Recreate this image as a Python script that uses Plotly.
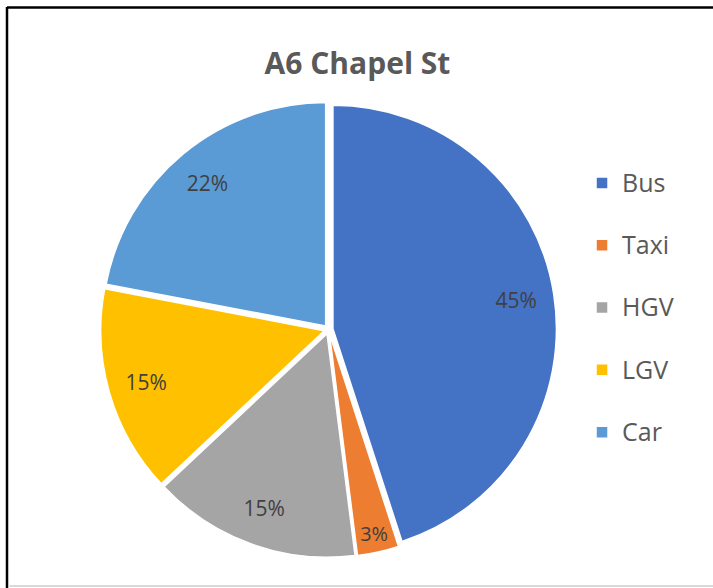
import plotly.graph_objects as go

# Datos del gráfico
categorias = ['Bus', 'Taxi', 'HGV', 'LGV', 'Car']
porcentajes = [45, 3, 15, 15, 22]
colores = ['#4472C4', '#ED7D31', '#A5A5A5', '#FFC000', '#5B9BD5']

# Etiquetas de leyenda con una línea vacía extra para separar las entradas
etiquetas_leyenda = ["<span style='font-size:25px'>" + c + '</span><br> ' for c in categorias]

dominio = dict(x=[0.1410, 0.7805], y=[0.0519, 0.8274])

fig = go.Figure()

# Pastel principal (colores y leyenda)
fig.add_trace(go.Pie(
    labels=etiquetas_leyenda,
    values=porcentajes,
    sort=False,
    direction='clockwise',
    rotation=0,
    marker=dict(colors=colores, line=dict(color='white', width=1.5)),
    pull=0.02,
    textinfo='none',
    domain=dominio,
    hoverinfo='label+percent',
))

# Anillo transparente encima para colocar los porcentajes hacia el borde
fig.add_trace(go.Pie(
    labels=categorias,
    values=porcentajes,
    sort=False,
    direction='clockwise',
    rotation=0,
    hole=0.66,
    marker=dict(colors=['rgba(0,0,0,0)'] * len(categorias), line=dict(width=0)),
    pull=0.02,
    texttemplate='%{percent:.0%}',
    textposition='inside',
    insidetextorientation='horizontal',
    textfont=dict(family='Open Sans', size=21, color='#404040'),
    domain=dominio,
    showlegend=False,
    hoverinfo='skip',
))

fig.update_layout(
    width=713, height=588,
    margin=dict(l=0, r=0, t=0, b=0),
    paper_bgcolor='white',
    title=dict(text='<b>A6 Chapel St</b>', x=0.5014, xanchor='center',
               y=1 - 63 / 588, yanchor='middle',
               font=dict(family='Open Sans', size=30, color='#595959')),
    legend=dict(x=0.8163, xanchor='left', y=0.725, yanchor='top',
                valign='top',
                font=dict(family='Open Sans', size=22.8, color='#595959')),
    shapes=[
        # marco del gráfico
        dict(type='line', xref='paper', yref='paper', x0=7 / 713, x1=7 / 713,
             y0=0, y1=1 - 7 / 588, line=dict(color='black', width=2.5)),
        dict(type='line', xref='paper', yref='paper', x0=7 / 713, x1=1,
             y0=1 - 7.5 / 588, y1=1 - 7.5 / 588, line=dict(color='black', width=2.5)),
        dict(type='line', xref='paper', yref='paper', x0=9.5 / 713, x1=1,
             y0=2 / 588, y1=2 / 588, line=dict(color='#D9D9D9', width=2)),
    ],
)

fig.write_html('out.html', config={'displayModeBar': False},
               post_script="document.body.style.margin='0';")
